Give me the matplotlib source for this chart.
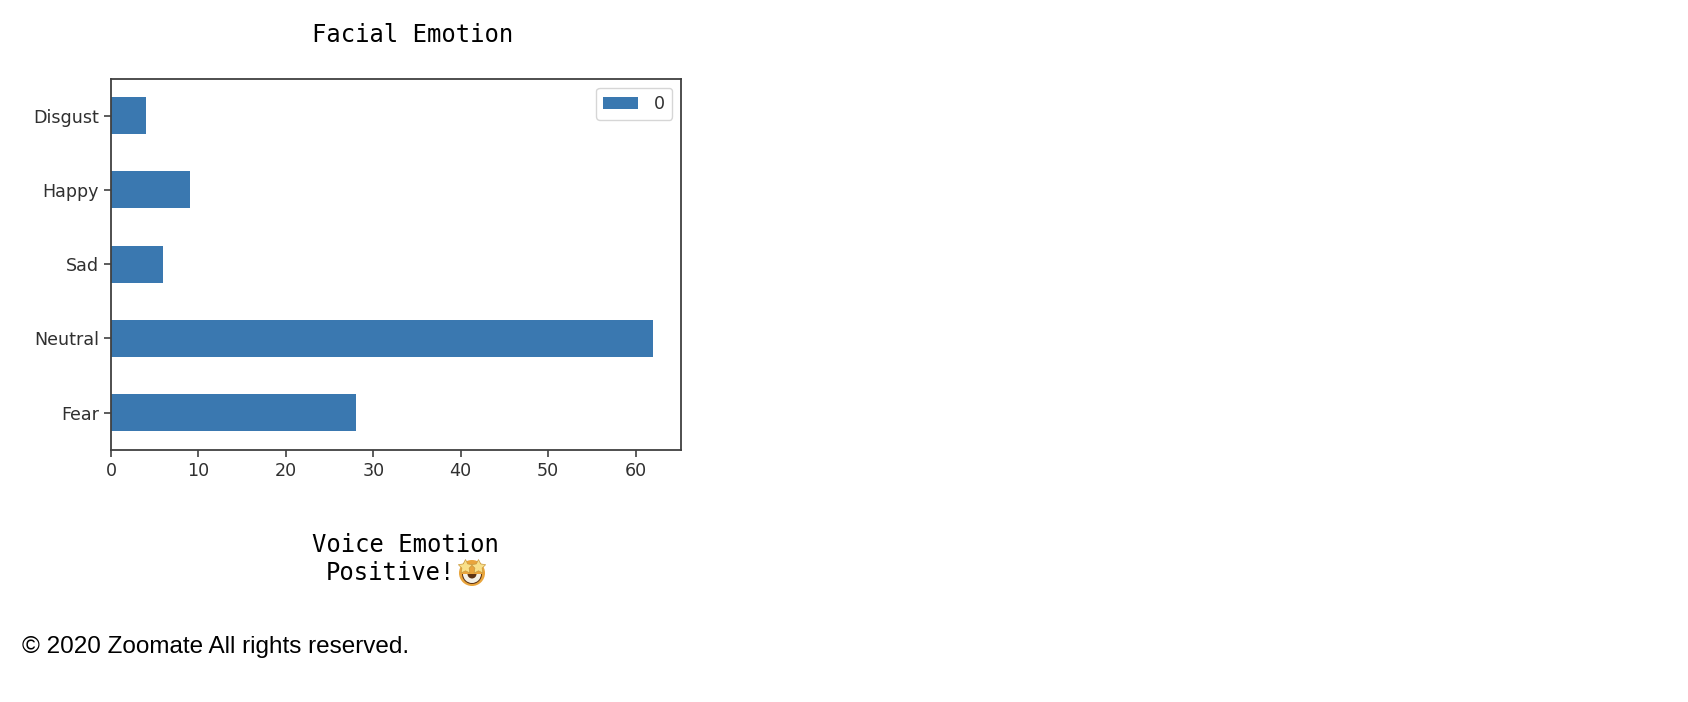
#%%
import numpy as np
import matplotlib
matplotlib.use('Agg')
import matplotlib.pyplot as plt
from matplotlib.patches import Circle, Polygon, Wedge

W, H = 1688, 702

emotions = ['Fear', 'Neutral', 'Sad', 'Happy', 'Disgust']
counts = [28, 62, 6, 9, 4]
xticks = [0, 10, 20, 30, 40, 50, 60]
legend_label = '0'

def fx(px):
    return px / W

def fy(py):
    return 1 - py / H

#%%
fig = plt.figure(figsize=(W / 100, H / 100), dpi=100, facecolor='white')

ax = fig.add_axes([fx(111), fy(450), fx(681 - 111), (450 - 79) / H])
ax.barh(range(len(emotions)), counts, height=0.5, color='#3a78b0', label=legend_label)
ax.set_xlim(0, 65.2)
ax.set_ylim(-0.505, 4.495)
ax.set_yticks(range(len(emotions)))
ax.set_yticklabels(emotions)
ax.set_xticks(xticks)
ax.tick_params(labelsize=12.6, colors='#303030', length=5, width=1.1)
for s in ax.spines.values():
    s.set_linewidth(1.3)
    s.set_color('#404040')
leg = ax.legend(loc='upper right', fontsize=12.6, labelcolor='#303030', handletextpad=0.9,
                borderaxespad=0.5)

### page text around the chart
mono = 'DejaVu Sans Mono'
fig.text(fx(412.5), fy(35), 'Facial Emotion', family=mono, fontsize=17.2, ha='center', va='center', color='black')
fig.text(fx(405), fy(545), 'Voice Emotion', family=mono, fontsize=17.2, ha='center', va='center', color='black')
fig.text(fx(390), fy(573), 'Positive!', family=mono, fontsize=17.2, ha='center', va='center', color='black')
fig.text(fx(22), fy(647), '\u00a9 2020 Zoomate All rights reserved.', family='Liberation Sans',
         fontsize=17.45, ha='left', va='center', color='black')

#%%
### star-struck emoji, no installed font has it so draw it in pixel coords
### (y is flipped on this overlay, so 0-180 is the lower half)
overlay = fig.add_axes([0, 0, 1, 1], facecolor='none')
overlay.set_xlim(0, W)
overlay.set_ylim(H, 0)
overlay.axis('off')
cx, cy = 472, 573
overlay.add_patch(Circle((cx, cy), 13, color='#e9a53c', lw=0))
overlay.add_patch(Wedge((cx, cy + 1), 10, 0, 180, color='#5e3413', lw=0))
overlay.add_patch(Wedge((cx, cy + 1), 9, 0, 180, color='#f3f0e6', width=4.5, lw=0))
for sx in (cx - 6.5, cx + 6.5):
    ang = np.pi / 2 + np.arange(10) * np.pi / 5
    rad = np.where(np.arange(10) % 2 == 0, 7.5, 3.8)
    star = np.column_stack([sx + rad * np.cos(ang), cy - 6 - rad * np.sin(ang)])
    overlay.add_patch(Polygon(star, closed=True, facecolor='#f8e08a', edgecolor='#c9983e', lw=0.5))

fig.savefig('out.png', dpi=100)
